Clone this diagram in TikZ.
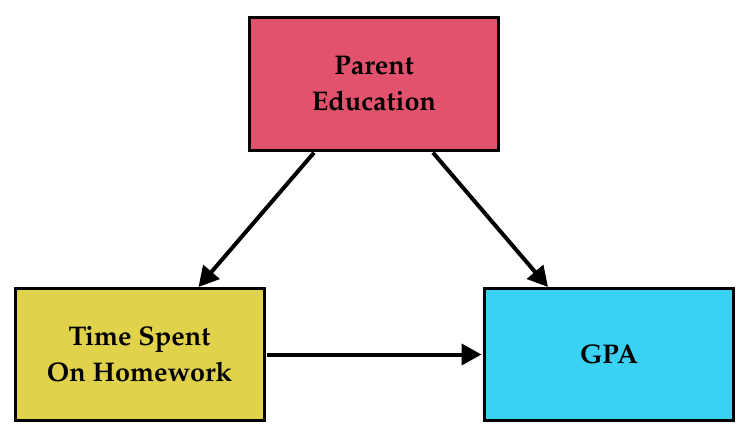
\documentclass[tikz,border=0pt]{standalone}
\usepackage[T1]{fontenc}
\usepackage{mathpazo}
\usetikzlibrary{arrows.meta}
\definecolor{pepink}{RGB}{227,82,108}
\definecolor{tsyellow}{RGB}{224,210,75}
\definecolor{gpacyan}{RGB}{58,210,242}
\tikzset{
  box/.style={draw=black, line width=3pt, minimum width=249pt, minimum height=132pt,
    inner sep=0pt, align=center, font=\fontsize{27}{36}\selectfont\bfseries},
  conn/.style={line width=4pt, -{Triangle[length=20pt,width=21pt]}}
}
\begin{document}
\begin{tikzpicture}[x=1pt,y=-1pt]
\useasboundingbox (0,0) rectangle (748,436);
\node[box, fill=pepink] (pe) at (374,84) {Parent\\Education};
\node[box, fill=tsyellow] (ts) at (139.5,354.5) {Time Spent\\On Homework};
\node[box, fill=gpacyan] (gpa) at (609,354.5) {GPA};
\draw[conn, shorten <=1.5pt] ([xshift=-59pt]pe.south) -- ([xshift=59pt]ts.north);
\draw[conn, shorten <=1.5pt] ([xshift=58pt]pe.south) -- ([xshift=-61pt]gpa.north);
\draw[conn, shorten <=1.5pt, shorten >=1.5pt] (ts.east) -- (gpa.west);
\end{tikzpicture}
\end{document}
